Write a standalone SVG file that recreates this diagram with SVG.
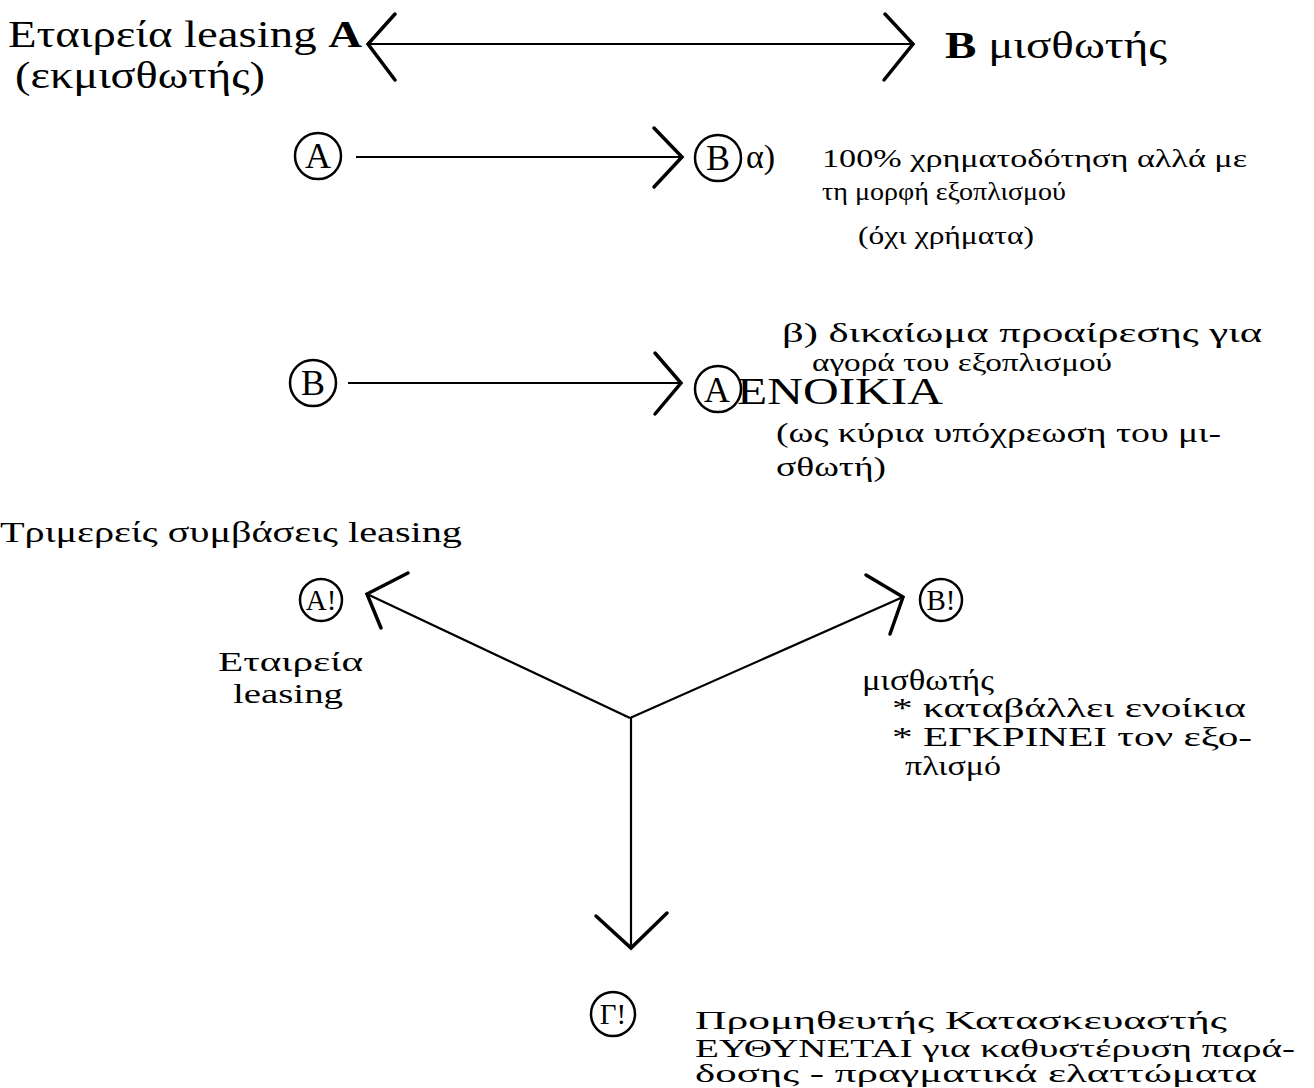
<svg xmlns="http://www.w3.org/2000/svg" width="1314" height="1088" viewBox="0 0 1314 1088">
<style>
text{font-family:"Liberation Serif","DejaVu Serif",serif;fill:#000}
.t36{font-size:37px}
.t30{font-size:30px}
.t28{font-size:28px}
.t26{font-size:26px}
.t25{font-size:25px}
.c{fill:none;stroke:#000;stroke-width:2.5}
.cl{font-size:36px;text-anchor:middle}
.cp{font-size:29px;text-anchor:middle}
.ln{fill:none;stroke:#000;stroke-width:2.2}
.ah{fill:none;stroke:#000;stroke-width:3.5;stroke-linecap:round;stroke-linejoin:miter}
</style>
<rect width="1314" height="1088" fill="#fff"/>
<g id="connectors">
<line class="ln" x1="370" y1="44" x2="913" y2="44"/>
<polyline class="ah" points="395,14 368,44 395,80"/>
<polyline class="ah" points="885,14 913,44 884,80"/>
<line class="ln" x1="356" y1="157" x2="681" y2="157"/>
<polyline class="ah" points="654,128 682,157 654,187"/>
<line class="ln" x1="348" y1="383" x2="680" y2="383"/>
<polyline class="ah" points="655,353 681,383 655,414"/>
<line class="ln" x1="630" y1="718" x2="367" y2="594"/>
<polyline class="ah" points="408,573 367,594 381,628"/>
<line class="ln" x1="630" y1="718" x2="903" y2="597"/>
<polyline class="ah" points="866,575 903,597 890,634"/>
<line class="ln" x1="631" y1="718" x2="631" y2="947"/>
<polyline class="ah" points="596,916 631,948 667,913"/>
</g>
<g id="top-a">
<text x="8" y="47" class="t36" textLength="354" lengthAdjust="spacingAndGlyphs">Εταιρεία leasing <tspan font-weight="bold">A</tspan></text>
<text x="15" y="88" class="t36" textLength="250" lengthAdjust="spacingAndGlyphs">(εκμισθωτής)</text>
</g>
<g id="top-b">
<text x="945" y="58" class="t36" textLength="222" lengthAdjust="spacingAndGlyphs"><tspan font-weight="bold">B</tspan> μισθωτής</text>
</g>
<g id="row1-a">
<circle class="c" cx="318" cy="156" r="23"/>
<text x="318" y="168" class="cl">A</text>
</g>
<g id="row1-b">
<circle class="c" cx="718" cy="158" r="23"/>
<text x="718" y="170" class="cl">B</text>
<text x="746" y="168" font-size="34">α)</text>
<text x="822" y="167" class="t26" textLength="425" lengthAdjust="spacingAndGlyphs">100% χρηματοδότηση αλλά με</text>
<text x="822" y="200" class="t26" textLength="244" lengthAdjust="spacingAndGlyphs">τη μορφή εξοπλισμού</text>
<text x="858" y="244" class="t26" textLength="176" lengthAdjust="spacingAndGlyphs">(όχι χρήματα)</text>
</g>
<g id="row2-b">
<circle class="c" cx="313" cy="383" r="23"/>
<text x="313" y="395" class="cl">B</text>
</g>
<g id="row2-a">
<text x="782" y="342" class="t28" textLength="480" lengthAdjust="spacingAndGlyphs">β) δικαίωμα προαίρεσης για</text>
<text x="812" y="371" class="t26" textLength="300" lengthAdjust="spacingAndGlyphs">αγορά του εξοπλισμού</text>
<circle class="c" cx="718" cy="389" r="23"/>
<text x="717" y="402" class="cl">A</text>
<text x="737" y="404" font-size="37" textLength="206" lengthAdjust="spacingAndGlyphs">ΕΝΟΙΚΙΑ</text>
<text x="776" y="442" class="t28" textLength="445" lengthAdjust="spacingAndGlyphs">(ως κύρια υπόχρεωση του μι-</text>
<text x="776" y="476" class="t28" textLength="110" lengthAdjust="spacingAndGlyphs">σθωτή)</text>
</g>
<g id="title-tri">
<text x="0" y="542" class="t30" textLength="462" lengthAdjust="spacingAndGlyphs">Τριμερείς συμβάσεις  leasing</text>
</g>
<g id="node-a1">
<circle class="c" cx="321" cy="600" r="21"/>
<text x="321" y="610" class="cp">A!</text>
<text x="218" y="671" class="t28" textLength="145" lengthAdjust="spacingAndGlyphs">Εταιρεία</text>
<text x="233" y="703" class="t28" textLength="110" lengthAdjust="spacingAndGlyphs">leasing</text>
</g>
<g id="node-b1">
<circle class="c" cx="941" cy="600" r="21"/>
<text x="941" y="610" class="cp">B!</text>
<text x="862" y="690" class="t30" textLength="132" lengthAdjust="spacingAndGlyphs">μισθωτής</text>
<text x="892" y="717" class="t28" textLength="354" lengthAdjust="spacingAndGlyphs">* καταβάλλει ενοίκια</text>
<text x="892" y="746" class="t28" textLength="360" lengthAdjust="spacingAndGlyphs">* ΕΓΚΡΙΝΕΙ τον εξο-</text>
<text x="905" y="775" class="t28" textLength="96" lengthAdjust="spacingAndGlyphs">πλισμό</text>
</g>
<g id="node-g1">
<circle class="c" cx="613" cy="1014" r="22"/>
<text x="613" y="1024" class="cp">Γ!</text>
<text x="695" y="1029" class="t26" textLength="532" lengthAdjust="spacingAndGlyphs">Προμηθευτής Κατασκευαστής</text>
<text x="695" y="1057" class="t25" textLength="600" lengthAdjust="spacingAndGlyphs">ΕΥΘΥΝΕΤΑΙ για καθυστέρυση παρά-</text>
<text x="695" y="1082" class="t25" textLength="562" lengthAdjust="spacingAndGlyphs">δοσης - πραγματικά ελαττώματα</text>
</g>
</svg>
